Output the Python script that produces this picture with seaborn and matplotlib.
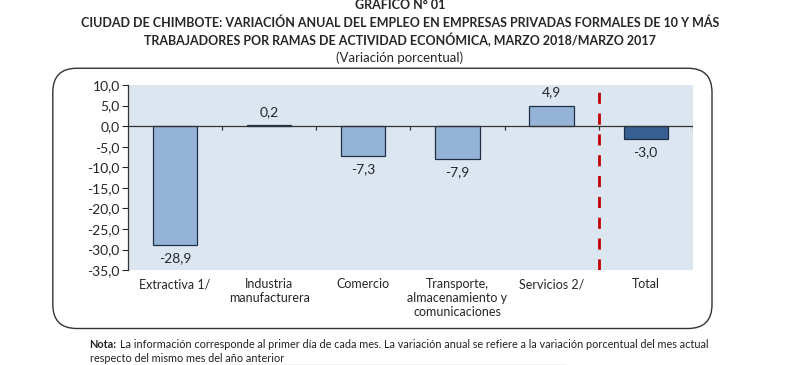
import numpy as np
import pandas as pd
import matplotlib
matplotlib.use("Agg")
import matplotlib.pyplot as plt
import seaborn as sns
from matplotlib.patches import FancyBboxPatch
from matplotlib.lines import Line2D

# data
categories = ["Extractiva 1/", "Industria\nmanufacturera", "Comercio",
              "Transporte,\nalmacenamiento y\ncomunicaciones", "Servicios 2/", "Total"]
values = [-28.9, 0.2, -7.3, -7.9, 4.9, -3.0]
bar_colors = ["#95b3d7", "#95b3d7", "#95b3d7", "#95b3d7", "#95b3d7", "#376092"]
yticks = np.arange(-35, 10.1, 5)

sns.set_style("white")
plt.rcParams["font.family"] = ["Lato", "DejaVu Sans"]

df = pd.DataFrame({"rama": categories, "var": values})

fig = plt.figure(figsize=(8, 3.65), dpi=100)
ax = fig.add_axes([0.16, 0.26, 0.706, 0.507])

# rounded frame around the chart
box = FancyBboxPatch((0.066, 0.1), 0.824, 0.713, boxstyle="round,pad=0,rounding_size=0.03",
                     transform=fig.transFigure, fill=False, edgecolor="#333333", lw=1.0,
                     mutation_aspect=800 / 365)
fig.patches.append(box)

sns.barplot(data=df, x="rama", y="var", hue="rama", palette=bar_colors, legend=False,
            saturation=1, width=0.47, edgecolor="#1f2f45", linewidth=0.9, ax=ax, zorder=3)

ax.set_facecolor("#dce6f1")
ax.set_ylim(-35, 10)
ax.set_xlim(-0.5, len(categories) - 0.5)
ax.set_yticks(yticks)
ax.set_yticklabels([f"{v:.1f}".replace(".", ",") for v in yticks], fontsize=10)
ax.tick_params(axis="y", length=4, width=0.8, direction="out", left=True, pad=2)
ax.tick_params(axis="x", length=0, labelsize=9, pad=6)
ax.set_xlabel("")
ax.set_ylabel("")
for s in ["top", "right", "bottom"]:
    ax.spines[s].set_visible(False)
ax.spines["left"].set_color("#333333")
ax.spines["left"].set_linewidth(0.9)

# zero line with small category boundary ticks
ax.axhline(0, color="#333333", lw=0.9, zorder=4)
bounds = np.arange(0.5, len(categories) - 0.5)
ax.vlines(np.append(bounds, len(categories) - 0.5), -0.9, 0, color="#333333", lw=0.9, zorder=4)

# red dashed divider before Total
ax.axvline(len(categories) - 1.5, color="#c00000", lw=2, ls=(0, (4, 3.5)), zorder=5)

# data labels
for i, v in enumerate(values):
    lbl = f"{v:.1f}".replace(".", ",")
    if v >= 0:
        ax.text(i, v + 1.8, lbl, ha="center", va="bottom", fontsize=10)
    else:
        ax.text(i, v - 1.8, lbl, ha="center", va="top", fontsize=10)

# titles
fig.text(0.5, 0.985, "GRAFICO N° 01", ha="center", va="center", fontsize=9, fontweight="bold")
fig.text(0.5, 0.937, "CIUDAD DE CHIMBOTE: VARIACIÓN ANUAL DEL EMPLEO EN EMPRESAS PRIVADAS FORMALES DE 10 Y MÁS",
         ha="center", va="center", fontsize=9, fontweight="bold")
fig.text(0.5, 0.89, "TRABAJADORES POR RAMAS DE ACTIVIDAD ECONÓMICA, MARZO 2018/MARZO 2017",
         ha="center", va="center", fontsize=9, fontweight="bold")
fig.text(0.5, 0.843, "(Variación porcentual)", ha="center", va="center", fontsize=9.5)

# note
fig.text(0.112, 0.055, "Nota:", ha="left", va="center", fontsize=7.8, fontweight="bold", color="#222222")
fig.text(0.15, 0.055, "La información corresponde al primer día de cada mes. La variación anual se refiere a la variación porcentual del mes actual",
         ha="left", va="center", fontsize=7.8, color="#222222")
fig.text(0.112, 0.018, "respecto del mismo mes del año anterior", ha="left", va="center", fontsize=7.8, color="#222222")
fig.add_artist(Line2D([0.285, 0.707], [0.0, 0.0], transform=fig.transFigure, color="#222222", lw=0.8))

fig.savefig("out.png", dpi=100, facecolor="white")
